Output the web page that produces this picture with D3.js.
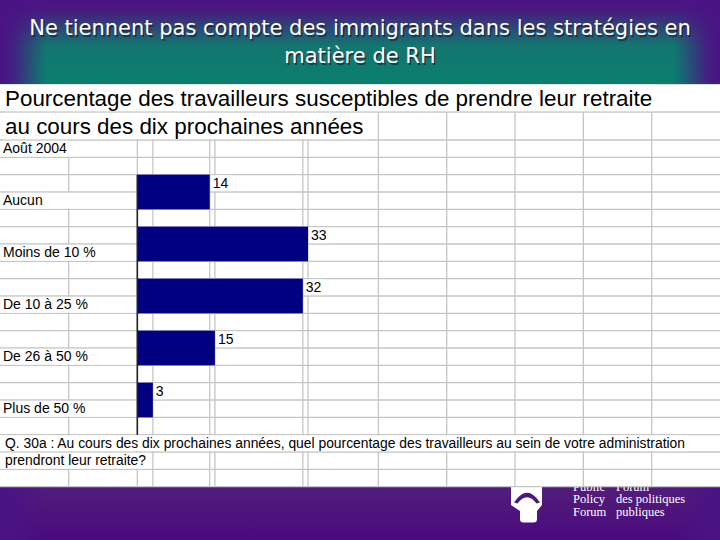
<!DOCTYPE html>
<html><head><meta charset="utf-8">
<script src="https://cdn.jsdelivr.net/npm/d3@7"></script>
<style>html,body{margin:0;padding:0;background:#fff;} svg{display:block;}</style>
</head><body>
<svg id="c" width="720" height="540"></svg>
<script>
// ---------- data ----------
const slideTitle = ["Ne tiennent pas compte des immigrants dans les stratégies en", "matière de RH"];
const chartTitle = ["Pourcentage des travailleurs susceptibles de prendre leur retraite", "au cours des dix prochaines années"];
const dateLabel = "Août 2004";
const categories = ["Aucun", "Moins de 10 %", "De 10 à 25 %", "De 26 à 50 %", "Plus de 50 %"];
const values = [14, 33, 32, 15, 3];
const questionLines = ["Q. 30a : Au cours des dix prochaines années, quel pourcentage des travailleurs au sein de votre administration", "prendront leur retraite?"];
const footerLeft = ["Public", "Policy", "Forum"];
const footerRight = ["Forum", "des politiques", "publiques"];

// ---------- layout ----------
const W = 720, H = 540;
const sheetTop = 84, titleRowH = 28, rowH = 52 / 3;
const gridTop = sheetTop + 2 * titleRowH;          // 140
const nRows = 20;
const sheetBottom = gridTop + nRows * rowH;        // 486.67
const rowY = r => gridTop + r * rowH;
const chartFont = "Arial, 'Liberation Sans', sans-serif";
const cellSize = 14;
const purple = "#4a1384", teal = "#0a7f6f";

const svg = d3.select("#c");
const defs = svg.append("defs");
function lg(id, x2, y2, stops) {
  const g = defs.append("linearGradient").attr("id", id)
    .attr("x1", 0).attr("y1", 0).attr("x2", x2).attr("y2", y2);
  stops.forEach(s => g.append("stop").attr("offset", s[0]).attr("stop-color", s[1]).attr("stop-opacity", s[2] == null ? 1 : s[2]));
}
lg("hdrV", 0, 1, [[0, "#4a1385"], [0.12, "#48197f"], [0.55, "#13766f"], [1, teal]]);
lg("edgeL", 1, 0, [[0, purple, 1], [0.3, purple, 0.85], [1, purple, 0]]);
lg("edgeR", 1, 0, [[0, purple, 0], [0.7, purple, 0.85], [1, purple, 1]]);
lg("ftrV", 0, 1, [[0, "#521e79"], [1, "#4a0a7d"]]);

// ---------- background ----------
svg.append("rect").attr("width", W).attr("height", H).attr("fill", purple);
svg.append("rect").attr("width", W).attr("height", sheetTop).attr("fill", "url(#hdrV)");
svg.append("rect").attr("y", sheetBottom - 2).attr("width", W).attr("height", H - sheetBottom + 2).attr("fill", "url(#ftrV)");
svg.append("rect").attr("width", 46).attr("height", H).attr("fill", "url(#edgeL)");
svg.append("rect").attr("x", W - 46).attr("width", 46).attr("height", H).attr("fill", "url(#edgeR)");

// slide title (shadow copy + white text)
const tFont = "Tahoma, 'DejaVu Sans', sans-serif", tSize = 21;
slideTitle.forEach((t, i) => {
  [["#1c1c2c", 1.5, 0.7], ["#fff", 0, 1]].forEach(([col, off, op]) => {
    svg.append("text").attr("x", W / 2 + off).attr("y", 35 + i * 28 + off)
      .attr("text-anchor", "middle").attr("font-family", tFont).attr("font-size", tSize)
      .attr("fill", col).attr("fill-opacity", op).text(t);
  });
});

// footer logo + text (partly under the sheet)
svg.append("path").attr("fill", "#fff")
  .attr("d", "M511,484 L542,484 L542,505 L537,511 L537,519 Q537,522.5 533.5,522.5 L523.5,522.5 Q520,522.5 520,519 L520,511 L511,505 Z");
svg.append("path").attr("fill", "#4e1779")
  .attr("d", "M514,502.5 Q527,483 540,502.5 L536.5,503.5 Q527,491 517.5,503.5 Z");
const ff = "'Liberation Serif', 'DejaVu Serif', serif";
footerLeft.forEach((t, i) => svg.append("text").attr("x", 573).attr("y", 490.5 + i * 12.8)
  .attr("font-family", ff).attr("font-size", 12.5).attr("fill", "#fff").text(t));
footerRight.forEach((t, i) => svg.append("text").attr("x", 616).attr("y", 490.5 + i * 12.8)
  .attr("font-family", ff).attr("font-size", 12.5).attr("fill", "#fff").text(t));

// ---------- sheet ----------
svg.append("rect").attr("y", sheetTop).attr("width", W).attr("height", sheetBottom - sheetTop).attr("fill", "#fff");
svg.append("line").attr("x1", 0).attr("x2", W).attr("y1", sheetTop + 0.5).attr("y2", sheetTop + 0.5).attr("stroke", "#cfe3e1");

// scales
const x = d3.scaleLinear().domain([0, d3.max(values)]).range([137.33, 308]);
const y = d3.scaleBand().domain(categories).range([rowY(1), rowY(16)])
  .paddingInner(1 / 3).paddingOuter(1 / 6).align(1);

// grid
const grid = svg.append("g").attr("stroke", "#c6c6c6").attr("stroke-width", 1.3);
const hLines = [sheetTop + titleRowH].concat(d3.range(nRows + 1).map(rowY));
grid.selectAll("line.h").data(hLines).join("line").attr("class", "h")
  .attr("x1", 0).attr("x2", W).attr("y1", d => d).attr("y2", d => d);
const colW = 68.33;
const vLines = [x(0) / 2, x(0)].concat(values.map(v => x(v)), d3.range(1, 6).map(k => W - k * colW));
grid.selectAll("line.v").data(vLines).join("line").attr("class", "v")
  .attr("x1", d => d).attr("x2", d => d).attr("y1", sheetTop + titleRowH).attr("y2", sheetBottom);

const bgG = svg.append("g").attr("fill", "#fff");
const txtG = svg.append("g").attr("font-family", chartFont).attr("fill", "#000");
function cellText(t, x0, baseline, rowTop, rh, size, opts) {
  const el = txtG.append("text").attr("x", x0).attr("y", baseline).attr("font-size", size).text(t);
  if (opts && opts.fit) {
    const len = el.node().getComputedTextLength();
    if (len > opts.fit) el.attr("textLength", opts.fit).attr("lengthAdjust", "spacingAndGlyphs");
  }
  const bb = el.node().getBBox();
  const xs = opts && opts.from != null ? opts.from : bb.x - 1;
  const xe = opts && opts.to != null ? opts.to : bb.x + bb.width + 3;
  bgG.append("rect").attr("x", xs).attr("y", rowTop + 0.8).attr("width", xe - xs).attr("height", rh - 1.6);
  return el;
}

// chart title
chartTitle.forEach((t, i) => cellText(t, 5, sheetTop + 22 + i * titleRowH, sheetTop + i * titleRowH, titleRowH, 22.4));
cellText(dateLabel, 3, rowY(0) + 13, rowY(0), rowH, cellSize);

// bars
svg.append("g").attr("fill", "#000080").selectAll("rect").data(values).join("rect")
  .attr("x", x(0)).attr("y", (d, i) => y(categories[i]))
  .attr("width", d => x(d) - x(0)).attr("height", y.bandwidth());

// category labels and values
categories.forEach((c, i) => {
  const top = y(c);
  cellText(c, 3, top + rowH + 12.8, top + rowH, rowH, cellSize, { from: 0.6, to: x(0) - 1 });
  cellText(String(values[i]), x(values[i]) + 3, top + 13, top, rowH, cellSize);
});

// axis line
svg.append("line").attr("x1", x(0)).attr("x2", x(0))
  .attr("y1", y.range()[0] + rowH).attr("y2", y.range()[1] + rowH)
  .attr("stroke", "#222").attr("stroke-width", 1.6);

// question
questionLines.forEach((t, i) => cellText(t, 5, rowY(17 + i) + 13, rowY(17 + i), rowH, cellSize,
  { fit: i === 0 ? 680 : 141, from: 0.6 }));
</script>
</body></html>
